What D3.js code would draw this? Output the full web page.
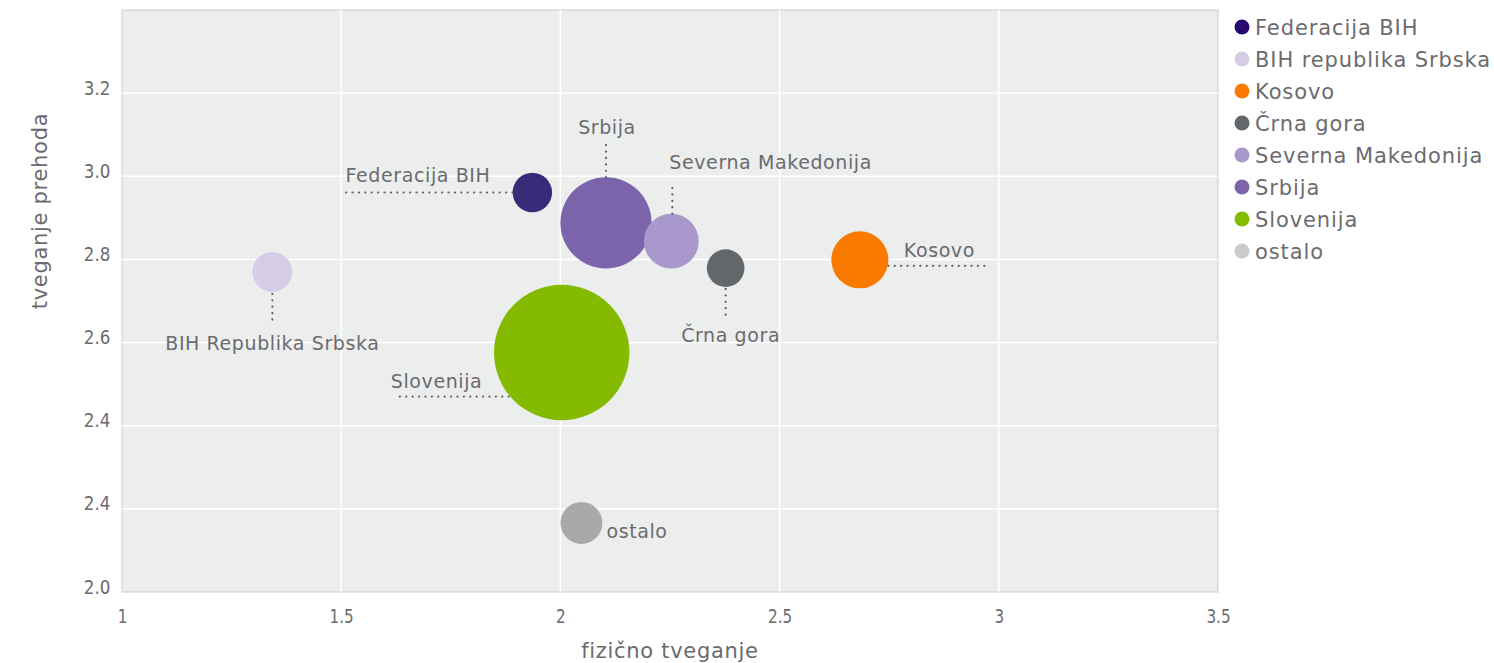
<!DOCTYPE html>
<html>
<head>
<meta charset="utf-8">
<script src="https://cdn.jsdelivr.net/npm/d3@7"></script>
<style>
  body { margin: 0; background: #fff; }
  text { font-family: "DejaVu Sans", sans-serif; fill: #6b6b6f; }
</style>
</head>
<body>
<div id="chart"></div>
<script>
"use strict";

// data
var countries = ["Federacija BIH", "BIH republika Srbska", "Kosovo", "Črna gora", "Severna Makedonija", "Srbija", "Slovenija", "ostalo"];
var fizicno = [1.936, 1.343, 2.683, 2.377, 2.253, 2.104, 2.003, 2.048];
var prehod = [2.961, 2.770, 2.799, 2.779, 2.844, 2.888, 2.576, 2.166];
var size = [8.5, 8.7, 17.7, 7.7, 16.4, 45.4, 100, 9.6];
var labels = ["Federacija BIH", "BIH Republika Srbska", "Kosovo", "Črna gora", "Severna Makedonija", "Srbija", "Slovenija", "ostalo"];
var xTicks = [1, 1.5, 2, 2.5, 3, 3.5];
var yTicks = [2.0, 2.2, 2.4, 2.6, 2.8, 3.0, 3.2];
var yTickLabels = ["2.0", "2.4", "2.4", "2.6", "2.8", "3.0", "3.2"];

var bubbleColors = ["#3a2b79", "#d5cde6", "#fa7a00", "#63666a", "#a898cb", "#7b64ab", "#84bb00", "#a9a9aa"];
var legendColors = ["#28096f", "#d5cde6", "#fa7a00", "#63666a", "#a898cb", "#7b64ab", "#84bb00", "#cbcbcc"];

var width = 1494, height = 663;
var margin = { left: 122, right: 276, top: 10, bottom: 71 };

var svg = d3.select("#chart").append("svg")
  .attr("width", width)
  .attr("height", height);

var x = d3.scaleLinear().domain([1, 3.5]).range([margin.left, width - margin.right]);
var y = d3.scaleLinear().domain([2.0, 3.4]).range([height - margin.bottom, margin.top]);
var r = d3.scaleSqrt().domain([0, 100]).range([0, 67.7]);

// plot background
svg.append("rect")
  .attr("x", x(1)).attr("y", y(3.4))
  .attr("width", x(3.5) - x(1)).attr("height", y(2.0) - y(3.4))
  .attr("fill", "#eceeed")
  .attr("stroke", "#c9cbca");

// grid
svg.append("g").selectAll("line")
  .data(xTicks.slice(1, -1)).enter().append("line")
  .attr("x1", d => x(d)).attr("x2", d => x(d))
  .attr("y1", y(3.4)).attr("y2", y(2.0))
  .attr("stroke", "#fff").attr("stroke-width", 1.5);
svg.append("g").selectAll("line")
  .data(yTicks.slice(1)).enter().append("line")
  .attr("x1", x(1)).attr("x2", x(3.5))
  .attr("y1", d => y(d)).attr("y2", d => y(d))
  .attr("stroke", "#fff").attr("stroke-width", 1.5);

// axes
var xAxis = svg.append("g")
  .attr("transform", "translate(0," + (y(2.0) + 15) + ")")
  .call(d3.axisBottom(x).tickValues(xTicks).tickFormat(d3.format("")).tickSize(0));
xAxis.select(".domain").remove();
xAxis.selectAll("text")
  .attr("font-size", 19).attr("fill", "#6b6b6f")
  .attr("transform", "scale(0.8,1)");

var yAxis = svg.append("g")
  .attr("transform", "translate(" + (x(1) - 9) + ",0)")
  .call(d3.axisLeft(y).tickValues(yTicks).tickFormat((d, i) => yTickLabels[i]).tickSize(0));
yAxis.select(".domain").remove();
yAxis.selectAll("text")
  .attr("font-size", 19).attr("fill", "#6b6b6f")
  .attr("transform", "translate(0,-5) scale(0.88,1)");

svg.append("text")
  .attr("x", (x(1) + x(3.5)) / 2).attr("y", 658)
  .attr("text-anchor", "middle").attr("font-size", 21)
  .attr("letter-spacing", 0.7)
  .attr("fill", "#3f3f44")
  .text("fizično tveganje");

svg.append("text")
  .attr("transform", "translate(47,211) rotate(-90)")
  .attr("text-anchor", "middle").attr("font-size", 21)
  .attr("letter-spacing", 0.7)
  .attr("fill", "#3f3f44")
  .text("tveganje prehoda");

// bubbles
var pts = countries.map((c, i) => ({ name: c, label: labels[i], fx: fizicno[i], py: prehod[i], s: size[i], col: bubbleColors[i] }));
var order = pts.slice().sort((a, b) => b.s - a.s);
svg.append("g").selectAll("circle")
  .data(order).enter().append("circle")
  .attr("cx", d => x(d.fx))
  .attr("cy", d => y(d.py))
  .attr("r", d => r(d.s))
  .attr("fill", d => d.col);

// annotation layout: offsets from each bubble centre
var ann = {
  "Federacija BIH": { line: [[-r(8.5), 0], [x(1.51) - x(1.936), 0]], text: [x(1.51) - x(1.936), -10], anchor: "start" },
  "BIH republika Srbska": { line: [[0, r(8.7) + 2], [0, 52]], text: [0, 78], anchor: "middle" },
  "Kosovo": { line: [[r(17.7), 6], [x(2.98) - x(2.683), 6]], text: [44, -3], anchor: "start" },
  "Črna gora": { line: [[0, r(7.7) + 2], [0, 50]], text: [5, 74], anchor: "middle" },
  "Severna Makedonija": { line: [[1, -r(16.4)], [1, -54]], text: [-2, -72], anchor: "start" },
  "Srbija": { line: [[0, -r(45.4)], [0, -80]], text: [1, -89], anchor: "middle" },
  "Slovenija": { line: [[-53, 44], [x(1.62) - x(2.003), 44]], text: [x(1.62) - x(2.003) - 3, 35], anchor: "start" },
  "ostalo": { line: null, text: [25, 15], anchor: "start" }
};

var annG = svg.append("g");
pts.forEach(function(d) {
  var a = ann[d.name];
  var cx = x(d.fx), cy = y(d.py);
  if (a.line) {
    annG.append("line")
      .attr("x1", cx + a.line[0][0]).attr("y1", cy + a.line[0][1])
      .attr("x2", cx + a.line[1][0]).attr("y2", cy + a.line[1][1])
      .attr("stroke", "#5f6064").attr("stroke-width", 2.2)
      .attr("stroke-dasharray", "0.1 6.3").attr("stroke-linecap", "round");
  }
  annG.append("text")
    .attr("x", cx + a.text[0]).attr("y", cy + a.text[1])
    .attr("text-anchor", a.anchor)
    .attr("font-size", 19)
    .attr("letter-spacing", 0.6)
    .text(d.label);
});

// legend
var legend = svg.append("g").attr("transform", "translate(1242,27)");
var items = legend.selectAll("g").data(countries).enter().append("g")
  .attr("transform", (d, i) => "translate(0," + i * 32 + ")");
items.append("circle").attr("r", 7.5).attr("fill", (d, i) => legendColors[i]);
items.append("text").attr("x", 13).attr("dy", "0.36em")
  .attr("font-size", 21).attr("letter-spacing", 0.9)
  .text(d => d);
</script>
</body>
</html>
